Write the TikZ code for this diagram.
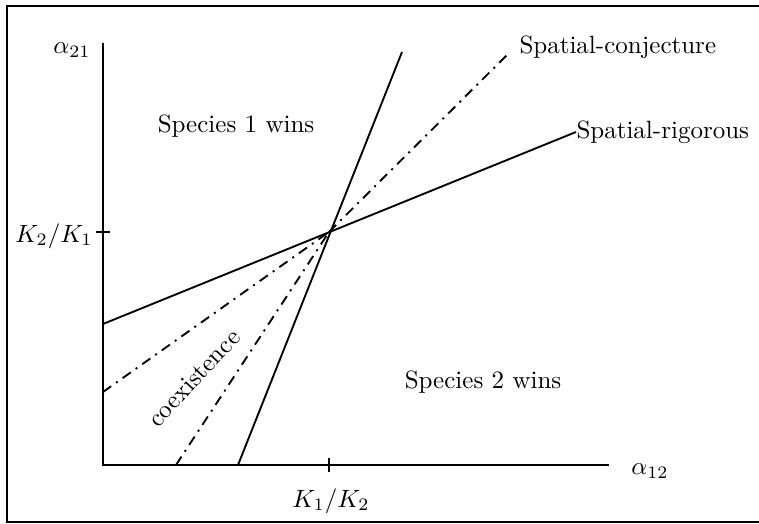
\documentclass[tikz,border=0pt]{standalone}
\usepackage{amsmath}
\usepackage{tikz}
\usetikzlibrary{positioning}

\begin{document}
\begin{tikzpicture}[
    x=0.4pt, y=-0.4pt,
    frame/.style={line width=0.8pt},
    axis/.style={line width=0.8pt},
    rigorous/.style={line width=0.75pt},
    conjecture/.style={line width=0.75pt, dash pattern=on 4pt off 2.4pt on 0.8pt off 2.4pt},
    region/.style={inner sep=0pt}
]
\useasboundingbox (0,0) rectangle (759,524);
\draw[frame] (759,6) -- (7,6) -- (7,522) -- (759,522);
% axes
\coordinate (o) at (103,465);
\coordinate (ytop) at (103,43);
\coordinate (xend) at (609,465);
\coordinate (c) at (329,232);
\draw[axis] (ytop) -- (o) -- (xend);
\node[region] (a21) at (72,50) {$\alpha_{21}$};
\node[region] (a12) at (650,471) {$\alpha_{12}$};
% ticks
\coordinate (ty1) at (96,232);
\coordinate (ty2) at (110,232);
\coordinate (tx1) at (329,458);
\coordinate (tx2) at (329,472);
\draw[axis] (ty1) -- (ty2);
\draw[axis] (tx1) -- (tx2);
\node[region] (k21) at (54,236) {$K_2/K_1$};
\node[region] (k12) at (331,501) {$K_1/K_2$};
% boundaries
\coordinate (r1a) at (238,465);
\coordinate (r1b) at (402,52);
\coordinate (r2a) at (103,324);
\coordinate (r2b) at (576,132);
\coordinate (q1a) at (103,392);
\coordinate (q2a) at (176,465);
\coordinate (q3b) at (507,55);
\draw[rigorous] (r1a) -- (r1b);
\draw[rigorous] (r2a) -- (r2b);
\draw[conjecture] (q1a) -- (c);
\draw[conjecture] (q2a) -- (c);
\draw[conjecture] (c) -- (q3b);
% labels
\node[region, anchor=west] (rig) at (r2b) {Spatial-rigorous};
\node[region, anchor=west] (conj) at (519,47) {Spatial-conjecture};
\node[region] (s1) at (236,126) {Species 1 wins};
\node[region] (s2) at (483,382) {Species 2 wins};
\node[region, rotate=47] (coex) at (194,378) {coexistence};
\end{tikzpicture}
\end{document}
